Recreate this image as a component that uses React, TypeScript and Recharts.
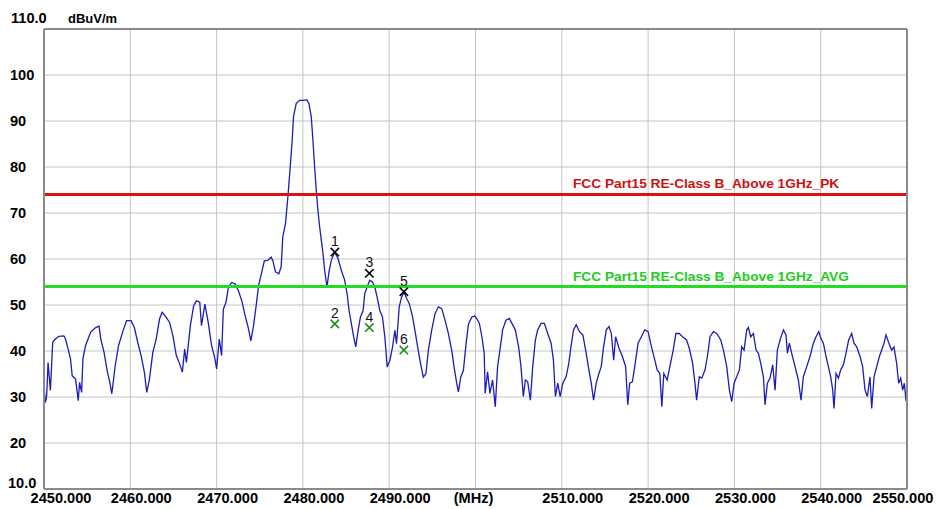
import React from "react";
import {
  ComposedChart,
  Line,
  Scatter,
  XAxis,
  YAxis,
  CartesianGrid,
  ReferenceLine,
} from "recharts";

const xTicks = [2450, 2460, 2470, 2480, 2490, 2500, 2510, 2520, 2530, 2540, 2550];
const xTickLabels = ["2450.000", "2460.000", "2470.000", "2480.000", "2490.000", "(MHz)", "2510.000", "2520.000", "2530.000", "2540.000", "2550.000"];
const yTicks = [10, 20, 30, 40, 50, 60, 70, 80, 90, 100, 110];
const yTickLabels = ["10.0", "20", "30", "40", "50", "60", "70", "80", "90", "100", "110.0"];
const unitLabel = "dBuV/m";

const pkLimit = 74;
const avgLimit = 54;
const pkLimitName = "FCC Part15 RE-Class B_Above 1GHz_PK";
const avgLimitName = "FCC Part15 RE-Class B_Above 1GHz_AVG";

const markerFreq = [2483.7, 2483.7, 2487.7, 2487.7, 2491.7, 2491.7];
const markerLevel = [61.5, 45.9, 56.9, 45.1, 52.9, 40.2];
const markerLabels = ["1", "2", "3", "4", "5", "6"];

// [MHz, dBuV/m]
const trace: [number, number][] = [
  [2450.0, 32.5], [2450.16, 28.8], [2450.31, 30.3], [2450.47, 37.5], [2450.74, 31.4], [2451.01, 41.9], [2451.32, 42.6], [2451.71, 43.2], [2452.3, 43.3], [2452.49, 42.6], [2452.8, 40.4], [2453.07, 38.3], [2453.27, 34.6], [2453.66, 33.9], [2453.97, 29.2], [2454.12, 33.2], [2454.36, 31.0], [2454.51, 38.3], [2454.82, 41.2], [2455.41, 44.1], [2455.99, 45.1], [2456.38, 45.4], [2456.58, 42.6], [2456.96, 39.7], [2457.35, 35.4], [2457.63, 33.2], [2457.86, 30.7], [2458.25, 36.8], [2458.64, 41.2], [2459.11, 44.1], [2459.57, 46.6], [2460.08, 46.6], [2460.47, 45.1], [2460.86, 41.9], [2461.25, 39.0], [2461.63, 35.4], [2461.91, 31.0], [2462.22, 33.9], [2462.61, 39.7], [2463.0, 42.6], [2463.39, 47.0], [2463.7, 48.4], [2464.16, 47.3], [2464.55, 46.2], [2464.94, 43.3], [2465.33, 39.0], [2465.72, 37.2], [2466.03, 35.4], [2466.3, 40.4], [2466.5, 37.5], [2466.96, 45.5], [2467.35, 49.9], [2467.67, 50.9], [2468.05, 50.6], [2468.25, 45.5], [2468.64, 50.2], [2469.03, 46.2], [2469.42, 41.2], [2469.81, 38.3], [2470.0, 36.1], [2470.31, 42.6], [2470.58, 39.0], [2470.78, 49.1], [2471.09, 50.6], [2471.36, 53.8], [2471.75, 54.9], [2472.14, 54.6], [2472.53, 53.1], [2472.92, 50.9], [2473.31, 47.7], [2473.7, 44.8], [2473.97, 42.2], [2474.28, 45.5], [2474.59, 49.9], [2474.86, 54.2], [2475.14, 56.4], [2475.53, 59.6], [2475.93, 59.7], [2476.32, 60.4], [2476.51, 59.7], [2476.82, 57.2], [2477.21, 56.8], [2477.48, 58.3], [2477.67, 64.8], [2477.98, 67.7], [2478.26, 73.5], [2478.53, 80.0], [2478.76, 85.8], [2478.91, 90.9], [2479.22, 93.8], [2479.61, 94.5], [2480.0, 94.5], [2480.47, 94.6], [2480.7, 93.8], [2480.97, 90.9], [2481.16, 85.8], [2481.36, 80.0], [2481.55, 74.9], [2481.74, 70.6], [2481.94, 67.0], [2482.13, 64.1], [2482.33, 61.2], [2482.52, 57.5], [2482.79, 53.9], [2483.02, 57.2], [2483.29, 59.7], [2483.68, 61.5], [2484.07, 60.1], [2484.46, 57.5], [2484.84, 55.4], [2485.12, 52.5], [2485.35, 48.8], [2485.62, 45.9], [2485.89, 43.0], [2486.12, 40.9], [2486.4, 44.5], [2486.67, 47.4], [2486.98, 48.8], [2487.17, 52.5], [2487.44, 53.9], [2487.75, 55.4], [2488.06, 55.0], [2488.33, 53.9], [2488.6, 51.7], [2488.91, 48.8], [2489.22, 47.4], [2489.5, 43.0], [2489.77, 36.5], [2490.08, 38.0], [2490.39, 40.9], [2490.66, 44.5], [2490.85, 41.6], [2491.16, 49.6], [2491.43, 51.7], [2491.71, 52.8], [2492.02, 51.4], [2492.33, 50.3], [2492.71, 47.4], [2492.98, 44.5], [2493.37, 40.1], [2493.64, 37.2], [2493.95, 34.3], [2494.26, 35.1], [2494.53, 40.1], [2494.92, 44.5], [2495.31, 48.1], [2495.7, 49.6], [2496.09, 49.2], [2496.47, 46.7], [2496.86, 43.8], [2497.25, 40.1], [2497.52, 36.5], [2497.83, 32.9], [2498.02, 31.1], [2498.29, 34.3], [2498.6, 35.8], [2498.91, 41.6], [2499.19, 45.9], [2499.57, 47.4], [2499.9, 47.6], [2500.16, 47.0], [2500.45, 46.0],
  [2500.74, 43.1], [2501.01, 39.5], [2501.12, 30.8], [2501.4, 35.5], [2501.67, 30.8], [2501.98, 33.7], [2502.29, 27.9], [2502.56, 36.6], [2502.83, 40.2], [2503.14, 44.6], [2503.53, 46.7], [2503.91, 47.1], [2504.22, 46.0], [2504.61, 44.6], [2505.0, 40.9], [2505.27, 36.6], [2505.54, 30.1], [2505.78, 33.7], [2506.05, 33.3], [2506.36, 29.3], [2506.63, 36.6], [2506.94, 42.4], [2507.21, 44.6], [2507.6, 46.0], [2507.98, 46.0], [2508.37, 43.8], [2508.76, 41.7], [2509.03, 38.0], [2509.26, 30.1], [2509.53, 33.0], [2509.81, 30.1], [2510.12, 33.0], [2510.5, 34.4], [2510.81, 37.3], [2511.09, 41.3], [2511.36, 44.6], [2511.67, 45.7], [2512.05, 44.2], [2512.44, 43.5], [2512.83, 39.5], [2513.14, 35.9], [2513.41, 33.0], [2513.68, 29.3], [2513.99, 33.0], [2514.3, 35.1], [2514.57, 36.6], [2514.84, 40.9], [2515.16, 44.6], [2515.47, 45.3], [2515.74, 43.8], [2516.01, 38.0], [2516.24, 43.1], [2516.63, 40.6], [2517.02, 38.8], [2517.4, 36.6], [2517.64, 28.3], [2517.87, 33.0], [2518.18, 33.3], [2518.45, 36.6], [2518.84, 41.7], [2519.22, 43.1], [2519.61, 44.6], [2520.0, 44.2], [2520.39, 40.9], [2520.78, 38.0], [2521.05, 35.9], [2521.36, 35.1], [2521.59, 27.9], [2521.82, 35.1], [2522.21, 33.7], [2522.52, 36.6], [2522.91, 40.2], [2523.22, 43.8], [2523.6, 43.8], [2523.99, 43.1], [2524.46, 42.4], [2524.77, 40.6], [2525.16, 37.3], [2525.43, 33.0], [2525.62, 29.3], [2525.93, 34.4],
  [2526.22, 34.1], [2526.6, 35.9], [2526.87, 38.8], [2527.18, 43.1], [2527.57, 44.2], [2527.95, 43.8], [2528.42, 42.4], [2528.73, 40.2], [2529.11, 36.6], [2529.42, 31.5], [2529.69, 29.0], [2529.96, 33.0], [2530.27, 34.4], [2530.58, 35.9], [2530.85, 40.9], [2531.12, 40.2], [2531.43, 44.6], [2531.62, 45.1], [2531.89, 43.1], [2532.2, 43.8], [2532.51, 40.2], [2532.78, 39.5], [2533.05, 37.3], [2533.36, 34.4], [2533.55, 28.3], [2533.82, 33.0], [2534.13, 34.1], [2534.44, 37.0], [2534.71, 31.5], [2534.98, 40.2], [2535.29, 42.4], [2535.68, 44.6], [2535.98, 43.5], [2536.14, 39.5], [2536.37, 41.7], [2536.64, 39.5], [2537.03, 36.6], [2537.41, 33.7], [2537.72, 29.3], [2537.99, 34.4], [2538.38, 36.6], [2538.76, 38.8], [2539.15, 41.7], [2539.46, 43.1], [2539.77, 44.2], [2540.0, 42.8], [2540.31, 41.7], [2540.62, 38.8], [2540.89, 36.6], [2541.16, 34.4], [2541.39, 31.5], [2541.54, 27.5], [2541.78, 35.1], [2542.05, 34.1], [2542.32, 35.9], [2542.63, 37.0], [2542.93, 39.5], [2543.24, 42.4], [2543.59, 43.8], [2543.86, 41.7], [2544.17, 40.9], [2544.56, 38.8], [2544.86, 36.6], [2545.14, 31.5], [2545.41, 30.1], [2545.71, 34.4], [2545.91, 27.5], [2546.18, 34.4], [2546.49, 36.6], [2546.8, 38.8], [2547.07, 40.2], [2547.34, 41.7], [2547.57, 43.5], [2547.84, 42.0], [2548.22, 40.2], [2548.49, 40.9], [2548.8, 37.3], [2549.03, 33.0], [2549.27, 34.1], [2549.5, 31.5], [2549.69, 33.0], [2549.88, 29.3], [2550.0, 29.5],
];

const traceData = trace.map(([f, v]) => ({ f, v }));
const markerData = markerFreq.map((f, i) => ({ f, v: markerLevel[i], label: markerLabels[i], avg: i % 2 === 1 }));

const FONT = "'Liberation Sans', Arial, sans-serif";

const XTick = (props: any) => {
  const { x, y, index } = props;
  const label = xTickLabels[index];
  let dx = 11;
  if (index === 0) dx = 17;
  else if (index === xTickLabels.length - 1) dx = -4;
  else if (label === "(MHz)") dx = -2;
  return (
    <text x={x + dx} y={y} dy={6} textAnchor="middle" fontFamily={FONT} fontWeight="bold" fontSize={14.6} fill="#000">
      {label}
    </text>
  );
};

const YTick = (props: any) => {
  const { y, index } = props;
  const label = yTickLabels[index];
  let dy = 5;
  let lx = 10;
  if (index === 0) { dy = -1; lx = 8; }
  if (index === yTickLabels.length - 1) { dy = -6; lx = 11; }
  return (
    <text x={lx} y={y} dy={dy} textAnchor="start" fontFamily={FONT} fontWeight="bold" fontSize={14.6} fill="#000">
      {label}
    </text>
  );
};

const UnitLabel = (props: any) => {
  const vb = props.viewBox || { x: 0, y: 29 };
  return (
    <text x={vb.x + 68} y={vb.y - 6} fontFamily={FONT} fontWeight="bold" fontSize={13} fill="#000">
      {unitLabel}
    </text>
  );
};

const LimitLabel = (props: any) => {
  const { viewBox, text, color, dy } = props;
  if (!viewBox) return null;
  return (
    <text x={viewBox.x + 529} y={viewBox.y + dy} fontFamily={FONT} fontWeight="bold" fontSize={13.7} fill={color}>
      {text}
    </text>
  );
};

const MarkerShape = (props: any) => {
  const { cx, cy, payload } = props;
  const color = payload.avg ? "#1e8a1e" : "#000";
  const s = 4.2;
  return (
    <g>
      <line x1={cx - s} y1={cy - s} x2={cx + s} y2={cy + s} stroke={color} strokeWidth={1.6} />
      <line x1={cx - s} y1={cy + s} x2={cx + s} y2={cy - s} stroke={color} strokeWidth={1.6} />
      <text x={cx} y={cy - 6} textAnchor="middle" fontFamily={FONT} fontSize={14} fill="#111">
        {payload.label}
      </text>
    </g>
  );
};

export default function App() {
  return (
    <div style={{ position: "absolute", left: 0, top: 0, width: 938, height: 509, background: "#fff" }}>
      <ComposedChart width={938} height={509} margin={{ top: 29, right: 31, bottom: 0, left: 0 }}>
        <CartesianGrid stroke="#c4c4c4" strokeWidth={1} />
        <XAxis
          dataKey="f"
          type="number"
          domain={[2450, 2550]}
          ticks={xTicks}
          interval={0}
          height={20}
          axisLine={false}
          tickLine={false}
          tick={<XTick />}
          allowDataOverflow
        />
        <YAxis
          type="number"
          domain={[10, 110]}
          ticks={yTicks}
          interval={0}
          width={44}
          axisLine={false}
          tickLine={false}
          tick={<YTick />}
          label={<UnitLabel />}
          allowDataOverflow
        />
        <Line
          data={traceData}
          dataKey="v"
          type="linear"
          stroke="#1c1cb8"
          strokeWidth={1.3}
          dot={false}
          isAnimationActive={false}
        />
        <ReferenceLine y={pkLimit} stroke="#dd1111" strokeWidth={3} label={<LimitLabel text={pkLimitName} color="#d01010" dy={-6.5} />} />
        <ReferenceLine y={avgLimit} stroke="#22dd22" strokeWidth={3} label={<LimitLabel text={avgLimitName} color="#22cc22" dy={-6} />} />
        <Scatter data={markerData} dataKey="v" shape={<MarkerShape />} isAnimationActive={false} />
        <ReferenceLine x={2450} stroke="#8a8a8a" strokeWidth={2} />
        <ReferenceLine x={2550} stroke="#8a8a8a" strokeWidth={2} />
        <ReferenceLine y={10} stroke="#8a8a8a" strokeWidth={2} />
        <ReferenceLine y={110} stroke="#8a8a8a" strokeWidth={2} />
      </ComposedChart>
    </div>
  );
}
